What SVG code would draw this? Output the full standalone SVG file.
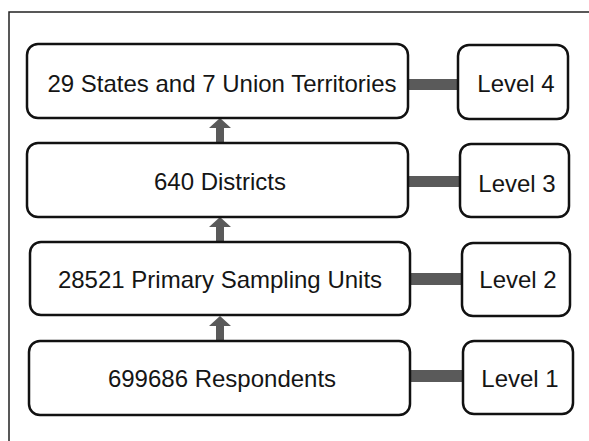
<svg xmlns="http://www.w3.org/2000/svg" width="589" height="441" viewBox="0 0 589 441">
<style>
.box{fill:#fff;stroke:#111;stroke-width:2.5}
.t{font-family:"Liberation Sans",Arial,sans-serif;font-size:24px;fill:#151515;text-anchor:middle}
.bar{fill:#5a5a5a}
</style>
<defs>
<path id="arr" d="M0,0 L11,10 L4,10 L4,25 L-4,25 L-4,10 L-11,10 Z" fill="#5a5a5a"/>
</defs>
<rect width="589" height="441" fill="#fff"/>
<path d="M9,441 V12 H589" fill="none" stroke="#222" stroke-width="1.5"/>
<g id="connectors">
<rect class="bar" x="408" y="79" width="51" height="11"/>
<rect class="bar" x="408" y="176" width="53" height="11"/>
<rect class="bar" x="410" y="273" width="53" height="12"/>
<rect class="bar" x="410" y="370" width="54" height="12"/>
<use href="#arr" x="220" y="118"/>
<use href="#arr" x="220" y="217"/>
<use href="#arr" x="220" y="316"/>
</g>
<g id="n-states"><rect class="box" x="27" y="44" width="381" height="74" rx="11"/><text class="t" x="222" y="92">29 States and 7 Union Territories</text></g>
<g id="n-districts"><rect class="box" x="27" y="143" width="381" height="74" rx="11"/><text class="t" x="220" y="190">640 Districts</text></g>
<g id="n-psu"><rect class="box" x="30" y="242" width="380" height="73" rx="11"/><text class="t" x="220" y="288">28521 Primary Sampling Units</text></g>
<g id="n-resp"><rect class="box" x="29" y="341" width="381" height="74" rx="11"/><text class="t" x="222" y="387">699686 Respondents</text></g>
<g id="l4"><rect class="box" x="458" y="45" width="110" height="74" rx="11"/><text class="t" x="516" y="92">Level 4</text></g>
<g id="l3"><rect class="box" x="460" y="144" width="109" height="73" rx="11"/><text class="t" x="517" y="192">Level 3</text></g>
<g id="l2"><rect class="box" x="462" y="243" width="108" height="73" rx="11"/><text class="t" x="518" y="288">Level 2</text></g>
<g id="l1"><rect class="box" x="463" y="341" width="110" height="73" rx="11"/><text class="t" x="520" y="387">Level 1</text></g>
</svg>
